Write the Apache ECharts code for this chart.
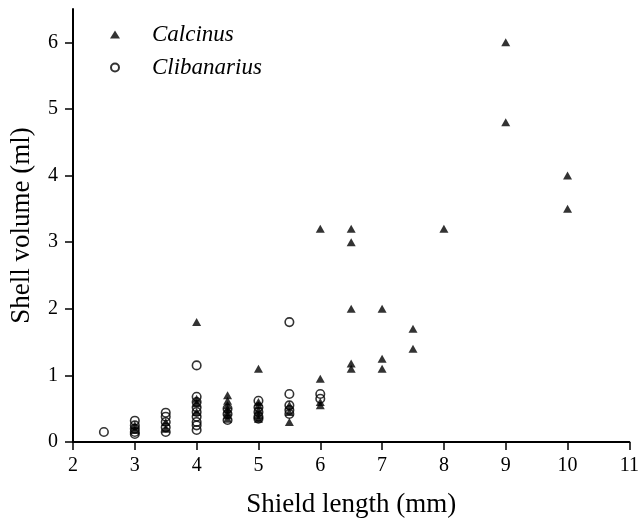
<!DOCTYPE html>
<html>
<head>
<meta charset="utf-8">
<script src="https://cdn.jsdelivr.net/npm/echarts@6/dist/echarts.min.js"></script>
<style>
  html, body { margin: 0; padding: 0; background: #fff; }
  #chart { width: 642px; height: 524px; }
</style>
</head>
<body>
<div id="chart"></div>
<script>
// 数据: [shield length, shell volume]
const calcinusData = [
  [3, 0.18], [3, 0.25], [3.5, 0.2], [3.5, 0.3],
  [4, 1.8], [4, 0.65], [4, 0.58], [4, 0.45],
  [4.5, 0.7], [4.5, 0.62], [4.5, 0.55], [4.5, 0.5], [4.5, 0.45], [4.5, 0.4], [4.5, 0.35],
  [5, 1.1], [5, 0.6], [5, 0.55], [5, 0.48], [5, 0.4], [5, 0.35],
  [5.5, 0.3], [5.5, 0.45], [5.5, 0.55],
  [6, 3.2], [6, 0.95], [6, 0.6], [6, 0.55],
  [6.5, 3.2], [6.5, 3.0], [6.5, 2.0], [6.5, 1.18], [6.5, 1.1],
  [7, 2.0], [7, 1.25], [7, 1.1],
  [7.5, 1.7], [7.5, 1.4],
  [8, 3.2],
  [9, 6.0], [9, 4.8],
  [10, 4.0], [10, 3.5]
];

const clibanariusData = [
  [2.5, 0.15],
  [3, 0.32], [3, 0.25], [3, 0.2], [3, 0.15], [3, 0.12],
  [3.5, 0.44], [3.5, 0.38], [3.5, 0.3], [3.5, 0.22], [3.5, 0.15],
  [4, 1.15], [4, 0.68], [4, 0.6], [4, 0.52], [4, 0.45], [4, 0.38], [4, 0.3], [4, 0.25], [4, 0.18],
  [4.5, 0.5], [4.5, 0.42], [4.5, 0.33],
  [5, 0.62], [5, 0.52], [5, 0.45], [5, 0.38], [5, 0.35],
  [5.5, 1.8], [5.5, 0.72], [5.5, 0.55], [5.5, 0.48], [5.5, 0.42],
  [6, 0.72], [6, 0.65]
];

const xTicks = { min: 2, max: 11, interval: 1 };
const yTicks = { min: 0, max: 6.5, interval: 1 };

const font = "'Liberation Serif', 'DejaVu Serif', serif";

const axisCommon = {
  axisLine: { show: true, onZero: false, lineStyle: { color: "#000", width: 2 } },
  axisTick: { show: true, inside: false, length: 8, lineStyle: { color: "#000", width: 1.5 } },
  splitLine: { show: false },
  axisLabel: { color: "#000", fontFamily: font, fontSize: 20 },
  nameTextStyle: { color: "#000", fontFamily: font, fontSize: 27 }
};

const chart = echarts.init(document.getElementById("chart"));

chart.setOption({
  animation: false,
  backgroundColor: "#fff",
  grid: { left: 73, right: 10, top: 9, bottom: 82 },
  legend: {
    orient: "vertical",
    left: 105,
    top: 18,
    itemGap: 10,
    itemWidth: 10,
    itemHeight: 8,
    textStyle: { color: "#000", fontFamily: font, fontSize: 23, fontStyle: "italic", padding: [0, 0, 0, 27] },
    data: ["Calcinus", "Clibanarius"]
  },
  xAxis: {
    type: "value",
    ...xTicks,
    ...axisCommon,
    name: "Shield length (mm)",
    nameLocation: "middle",
    nameGap: 49,
    axisLabel: { ...axisCommon.axisLabel, margin: 14 }
  },
  yAxis: {
    type: "value",
    ...yTicks,
    ...axisCommon,
    name: "Shell volume (ml)",
    nameLocation: "middle",
    nameGap: 38,
    axisLabel: { ...axisCommon.axisLabel, margin: 15, showMaxLabel: false }
  },
  series: [
    {
      name: "Calcinus",
      type: "scatter",
      symbol: "triangle",
      symbolSize: [9, 8],
      itemStyle: { color: "#000" },
      data: calcinusData
    },
    {
      name: "Clibanarius",
      type: "scatter",
      symbol: "circle",
      symbolSize: 8.5,
      itemStyle: { color: "rgba(0,0,0,0)", borderColor: "#000", borderWidth: 1.6 },
      data: clibanariusData
    }
  ]
});
</script>
</body>
</html>
